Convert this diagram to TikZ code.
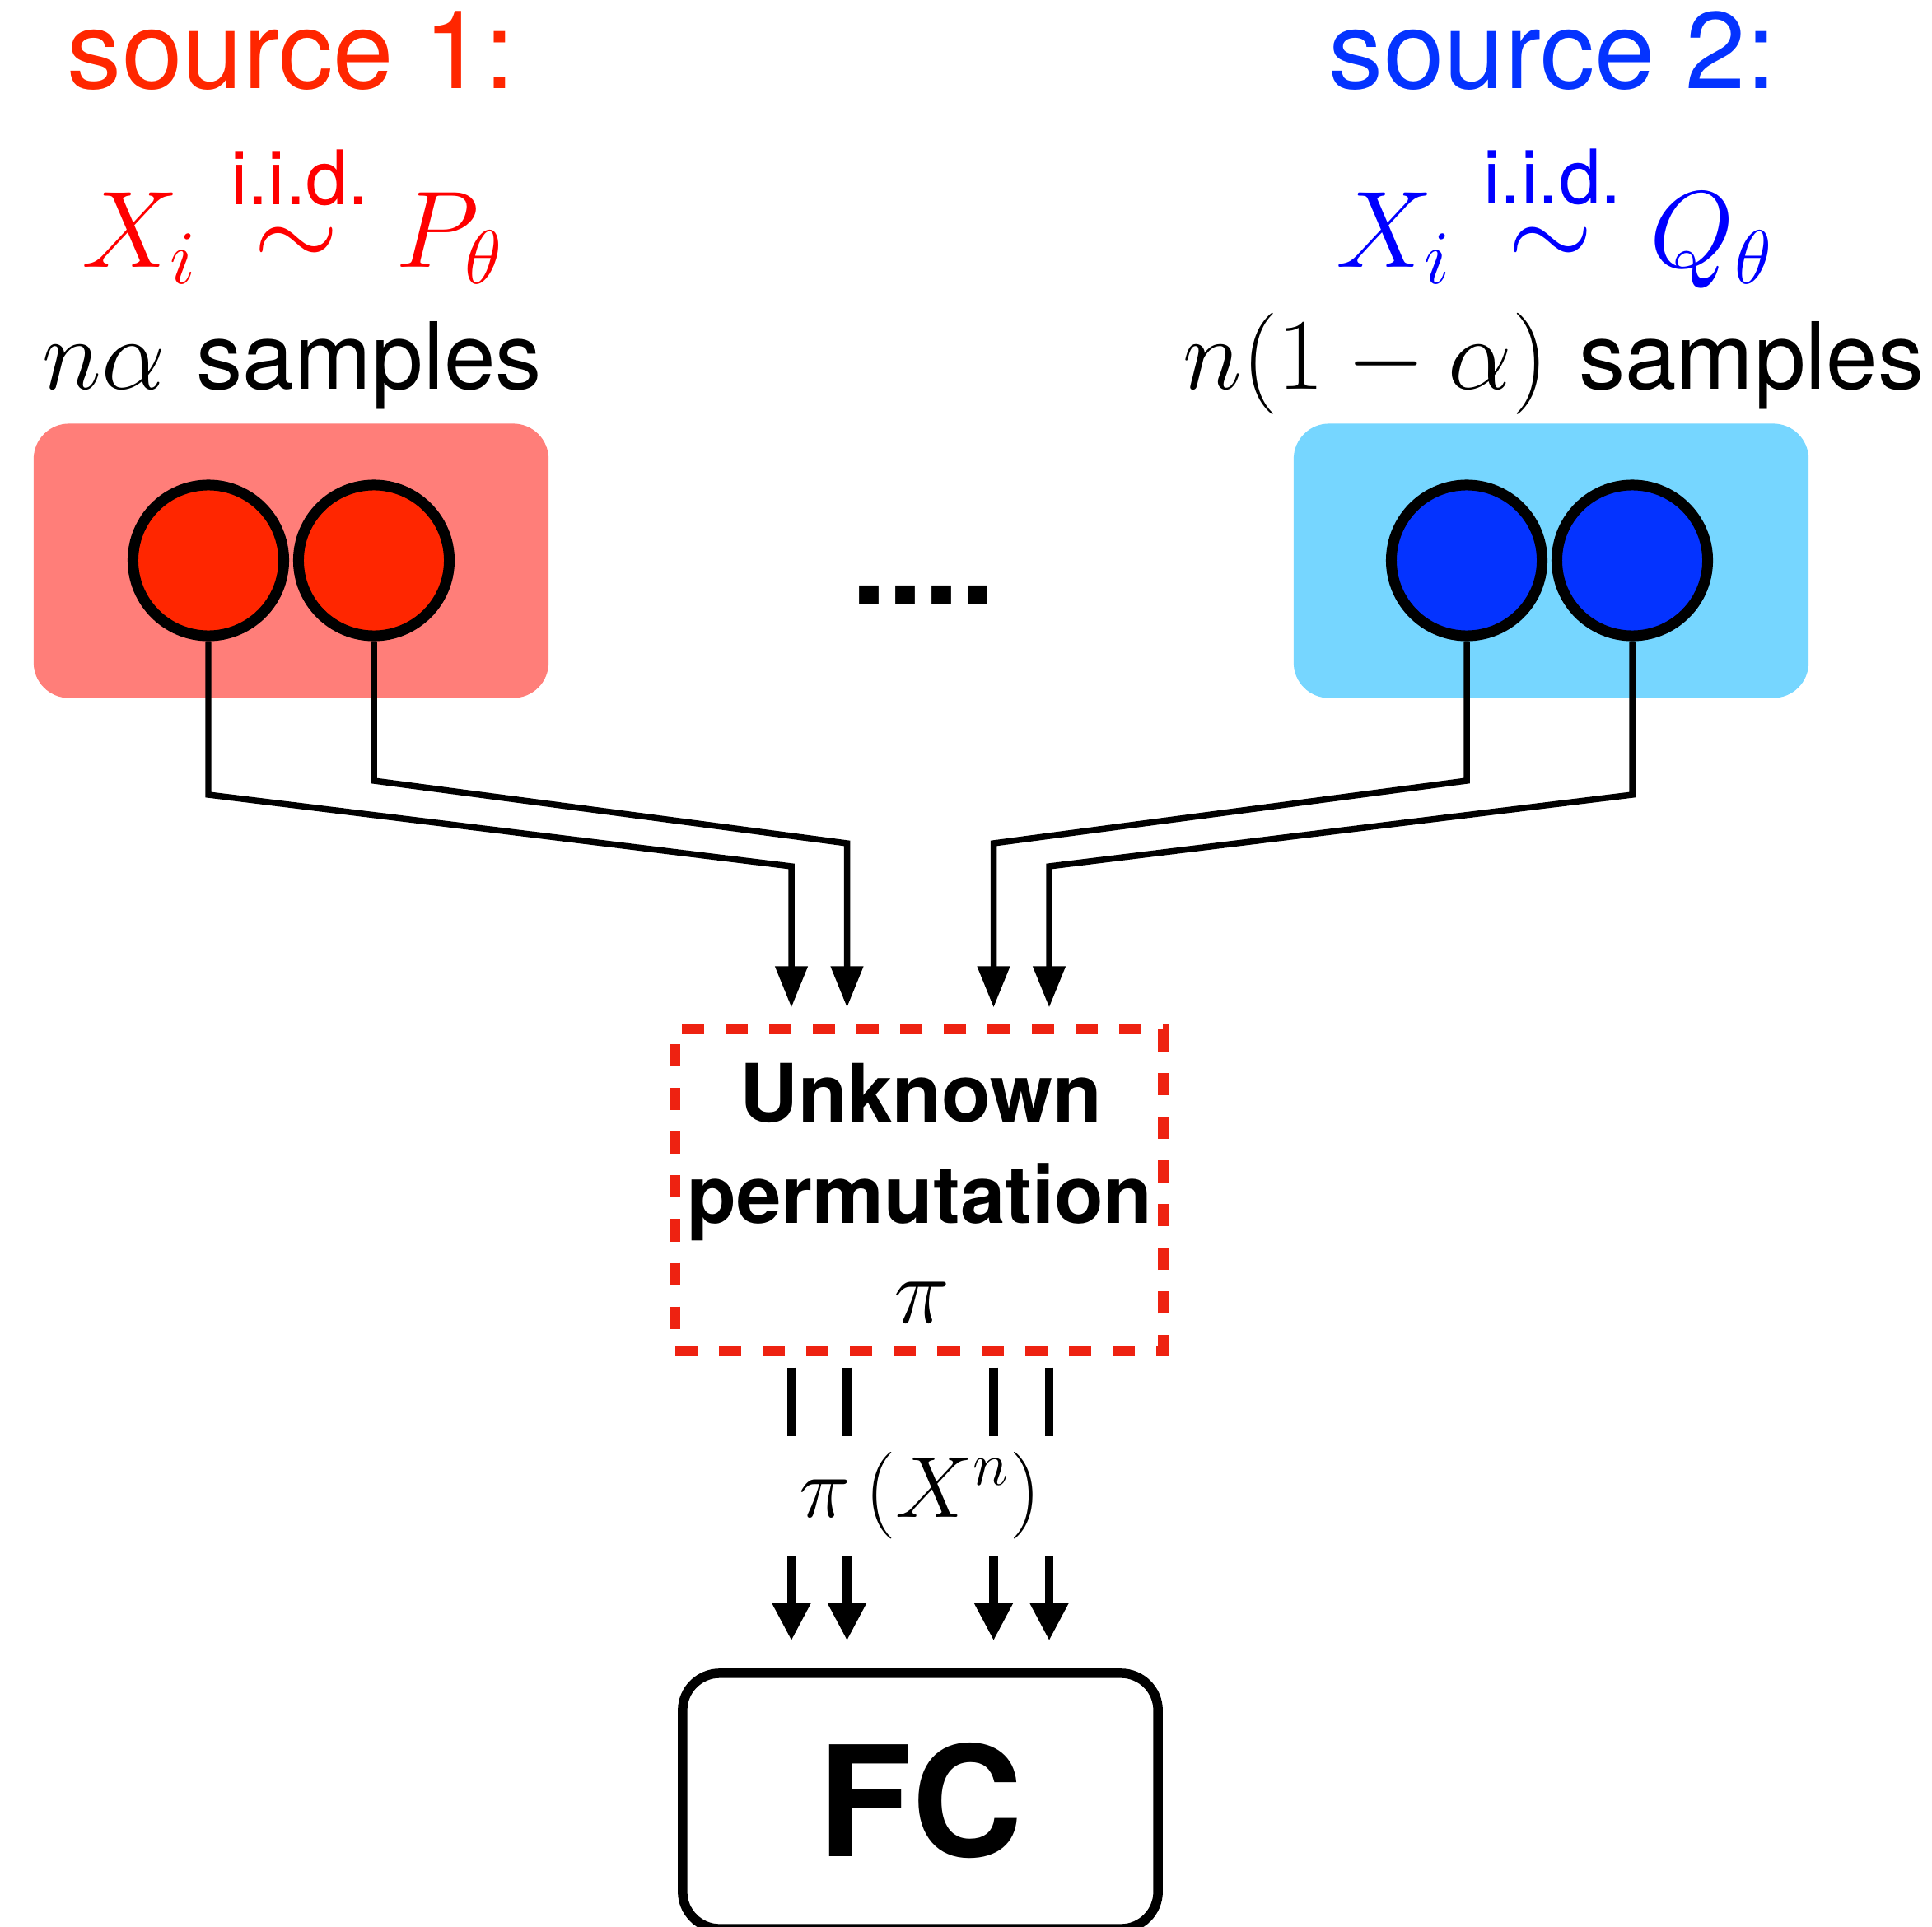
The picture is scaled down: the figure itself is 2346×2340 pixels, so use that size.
\RequirePackage{fix-cm}
\documentclass[tikz,border=0pt]{standalone}
\usepackage{amsmath}
\usepackage[no-math]{fontspec}
\newfontfamily\hel{TeX Gyre Heros}
\usetikzlibrary{arrows.meta,calc}
\definecolor{srcred}{RGB}{255,38,0}
\definecolor{srcblue}{RGB}{4,51,255}
\definecolor{mathred}{RGB}{255,0,0}
\definecolor{mathblue}{RGB}{0,0,255}
\definecolor{redbg}{RGB}{255,126,121}
\definecolor{bluebg}{RGB}{118,214,255}
\definecolor{dashred}{RGB}{238,34,17}
% a tilde as wide as the "i.i.d." label set above it
\newcommand{\iidsim}{\mathrel{\text{\ooalign{\hphantom{\hel\fontsize{26}{28}\selectfont i.i.d.}\cr\hfil$\sim$\hfil\cr}}}}
\begin{document}
\begin{tikzpicture}[x=0.01cm,y=-0.01cm,
  txt/.style={inner sep=0pt,outer sep=0pt,anchor=base},
  srcbox/.style={rounded corners=0.43cm,minimum width=6.25cm,minimum height=3.33cm,inner sep=0pt},
  sample/.style={circle,draw=black,line width=3.7pt,minimum size=1.83cm,inner sep=0pt},
  conn/.style={line width=2.13pt,-{Triangle[length=14.2pt,width=10.8pt]}},
  permbox/.style={draw=dashred,line width=3.7pt,dash pattern=on 7.7pt off 7.4pt,minimum width=5.92cm,minimum height=3.9cm,inner sep=0pt},
  bar/.style={line width=2.9pt},
  bigarr/.style={line width=2.9pt,-{Triangle[length=12.8pt,width=12.5pt]}},
  fcbox/.style={draw=black,line width=3.27pt,rounded corners=0.45cm,minimum width=5.77cm,minimum height=3.1cm,inner sep=0pt}
]
\useasboundingbox (0,0) rectangle (2346,2340);

% headings
\node[txt,text=srcred] (s1) at (353.5,108) {\hel\fontsize{37.6}{40}\selectfont source 1:};
\node[txt,text=srcblue] (s2) at (1885.5,108) {\hel\fontsize{37.6}{40}\selectfont source 2:};

\node[txt,text=mathred] (d1) at (355,325) {\fontsize{37.6}{40}\selectfont $X_i \iidsim P_\theta$};
\node[txt,text=mathred] (iid1) at (364,249) {\hel\fontsize{26}{28}\selectfont i.i.d.};
\node[txt,text=mathblue] (d2) at (1887.5,325) {\fontsize{37.6}{40}\selectfont $X_i \iidsim Q_\theta$};
\node[txt,text=mathblue] (iid2) at (1885.5,248) {\hel\fontsize{26}{28}\selectfont i.i.d.};

\node[txt] (n1) at (355,473) {\fontsize{35}{38}\selectfont $n\alpha$ \hel\fontsize{32}{35}\selectfont samples};
\node[txt] (n2) at (1886.5,473) {\fontsize{35}{38}\selectfont $n(1-\alpha)$ \hel\fontsize{32}{35}\selectfont samples};

% source boxes
\node[srcbox,fill=redbg] (redbox) at (353.5,681) {};
\node[srcbox,fill=bluebg] (bluebox) at (1883.5,681) {};

\node[sample,fill=srcred] (r1) at (253,680.5) {};
\node[sample,fill=srcred] (r2) at (454,680.5) {};
\node[sample,fill=srcblue] (b1) at (1781,680.5) {};
\node[sample,fill=srcblue] (b2) at (1982,680.5) {};

\node[txt] (dots) at (1121.5,734) {\hel\bfseries\fontsize{45}{48}\selectfont ....};

% permutation box
\node[permbox] (perm) at (1116,1445) {};
\node[txt] (unk) at (1118,1362) {\hel\bfseries\fontsize{27.8}{30}\selectfont Unknown};
\node[txt] (prm) at (1117,1485) {\hel\bfseries\fontsize{27.8}{30}\selectfont permutation};
\node[txt] (pi) at (1119.5,1606) {\fontsize{32.7}{34}\selectfont $\pi$};

% columns
\coordinate (c1) at (961,0);
\coordinate (c2) at (1028.5,0);
\coordinate (c3) at (1206.5,0);
\coordinate (c4) at (1274,0);

% connectors from samples
\coordinate (r1a) at (253,965);  \coordinate (r1b) at (961,1052);
\coordinate (r2a) at (454,948);  \coordinate (r2b) at (1028.5,1024);
\coordinate (b1a) at (1781,948); \coordinate (b1b) at (1206.5,1024);
\coordinate (b2a) at (1982,965); \coordinate (b2b) at (1274,1052);
\draw[conn] (r1.south) -- (r1a) -- (r1b) -- ($(perm.north -| r1b)+(0,-20)$);
\draw[conn] (r2.south) -- (r2a) -- (r2b) -- ($(perm.north -| r2b)+(0,-20)$);
\draw[conn] (b1.south) -- (b1a) -- (b1b) -- ($(perm.north -| b1b)+(0,-20)$);
\draw[conn] (b2.south) -- (b2a) -- (b2b) -- ($(perm.north -| b2b)+(0,-20)$);

% output of permutation
\foreach \c in {c1,c2,c3,c4}{
  \draw[bar] ($(perm.south -| \c)+(0,14)$) -- ++(0,83);
}
\node[txt] (pix) at (1117,1842) {\fontsize{30}{32}\selectfont $\pi\left(X^n\right)$};

% FC
\node[fcbox] (fc) at (1117.5,2187) {\hel\bfseries\fontsize{53}{56}\selectfont FC};
\foreach \c in {c1,c2,c3,c4}{
  \draw[bigarr] ($(fc.north -| \c)+(0,-136)$) -- ($(fc.north -| \c)+(0,-34)$);
}
\end{tikzpicture}
\end{document}
